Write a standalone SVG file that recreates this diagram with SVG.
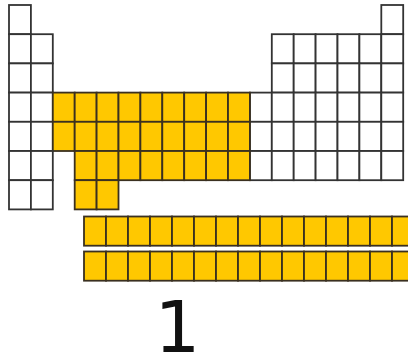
<svg xmlns="http://www.w3.org/2000/svg" xmlns:xlink="http://www.w3.org/1999/xlink" width="408" height="359" viewBox="0 0 408 359">
<style>
.w{fill:#ffffff;stroke:#333333;stroke-width:1.8}
.y{fill:#FFC800;stroke:#3a3020;stroke-width:1.8}
.lbl{font-family:"DejaVu Sans",sans-serif;font-size:72px;fill:#111111}
</style>
<defs>
<rect id="c" width="21.9" height="29.2"/>
<rect id="f" width="22" height="29.2"/>
</defs>
<rect width="408" height="359" fill="#ffffff"/>
<g id="main-table">
<g id="period1">
<use href="#c" class="w" x="9" y="5"/><use href="#c" class="w" x="381.3" y="5"/>
</g>
<g id="period2">
<use href="#c" class="w" x="9" y="34.2"/><use href="#c" class="w" x="30.9" y="34.2"/>
<use href="#c" class="w" x="271.8" y="34.2"/><use href="#c" class="w" x="293.7" y="34.2"/><use href="#c" class="w" x="315.6" y="34.2"/><use href="#c" class="w" x="337.5" y="34.2"/><use href="#c" class="w" x="359.4" y="34.2"/><use href="#c" class="w" x="381.3" y="34.2"/>
</g>
<g id="period3">
<use href="#c" class="w" x="9" y="63.4"/><use href="#c" class="w" x="30.9" y="63.4"/>
<use href="#c" class="w" x="271.8" y="63.4"/><use href="#c" class="w" x="293.7" y="63.4"/><use href="#c" class="w" x="315.6" y="63.4"/><use href="#c" class="w" x="337.5" y="63.4"/><use href="#c" class="w" x="359.4" y="63.4"/><use href="#c" class="w" x="381.3" y="63.4"/>
</g>
<g id="period4">
<use href="#c" class="w" x="9" y="92.6"/><use href="#c" class="w" x="30.9" y="92.6"/>
<use href="#c" class="w" x="249.9" y="92.6"/><use href="#c" class="w" x="271.8" y="92.6"/><use href="#c" class="w" x="293.7" y="92.6"/><use href="#c" class="w" x="315.6" y="92.6"/><use href="#c" class="w" x="337.5" y="92.6"/><use href="#c" class="w" x="359.4" y="92.6"/><use href="#c" class="w" x="381.3" y="92.6"/>
<use href="#c" class="y" x="52.8" y="92.6"/><use href="#c" class="y" x="74.7" y="92.6"/><use href="#c" class="y" x="96.6" y="92.6"/><use href="#c" class="y" x="118.5" y="92.6"/><use href="#c" class="y" x="140.4" y="92.6"/><use href="#c" class="y" x="162.3" y="92.6"/><use href="#c" class="y" x="184.2" y="92.6"/><use href="#c" class="y" x="206.1" y="92.6"/><use href="#c" class="y" x="228" y="92.6"/>
</g>
<g id="period5">
<use href="#c" class="w" x="9" y="121.8"/><use href="#c" class="w" x="30.9" y="121.8"/>
<use href="#c" class="w" x="249.9" y="121.8"/><use href="#c" class="w" x="271.8" y="121.8"/><use href="#c" class="w" x="293.7" y="121.8"/><use href="#c" class="w" x="315.6" y="121.8"/><use href="#c" class="w" x="337.5" y="121.8"/><use href="#c" class="w" x="359.4" y="121.8"/><use href="#c" class="w" x="381.3" y="121.8"/>
<use href="#c" class="y" x="52.8" y="121.8"/><use href="#c" class="y" x="74.7" y="121.8"/><use href="#c" class="y" x="96.6" y="121.8"/><use href="#c" class="y" x="118.5" y="121.8"/><use href="#c" class="y" x="140.4" y="121.8"/><use href="#c" class="y" x="162.3" y="121.8"/><use href="#c" class="y" x="184.2" y="121.8"/><use href="#c" class="y" x="206.1" y="121.8"/><use href="#c" class="y" x="228" y="121.8"/>
</g>
<g id="period6">
<use href="#c" class="w" x="9" y="151"/><use href="#c" class="w" x="30.9" y="151"/>
<use href="#c" class="w" x="249.9" y="151"/><use href="#c" class="w" x="271.8" y="151"/><use href="#c" class="w" x="293.7" y="151"/><use href="#c" class="w" x="315.6" y="151"/><use href="#c" class="w" x="337.5" y="151"/><use href="#c" class="w" x="359.4" y="151"/><use href="#c" class="w" x="381.3" y="151"/>
<use href="#c" class="y" x="74.7" y="151"/><use href="#c" class="y" x="96.6" y="151"/><use href="#c" class="y" x="118.5" y="151"/><use href="#c" class="y" x="140.4" y="151"/><use href="#c" class="y" x="162.3" y="151"/><use href="#c" class="y" x="184.2" y="151"/><use href="#c" class="y" x="206.1" y="151"/><use href="#c" class="y" x="228" y="151"/>
</g>
<g id="period7">
<use href="#c" class="w" x="9" y="180.2"/><use href="#c" class="w" x="30.9" y="180.2"/>
<use href="#c" class="y" x="74.7" y="180.2"/><use href="#c" class="y" x="96.6" y="180.2"/>
</g>
</g>
<g id="f-block">
<g id="lanthanides">
<use href="#f" class="y" x="84" y="216.5"/><use href="#f" class="y" x="106" y="216.5"/><use href="#f" class="y" x="128" y="216.5"/><use href="#f" class="y" x="150" y="216.5"/><use href="#f" class="y" x="172" y="216.5"/><use href="#f" class="y" x="194" y="216.5"/><use href="#f" class="y" x="216" y="216.5"/><use href="#f" class="y" x="238" y="216.5"/><use href="#f" class="y" x="260" y="216.5"/><use href="#f" class="y" x="282" y="216.5"/><use href="#f" class="y" x="304" y="216.5"/><use href="#f" class="y" x="326" y="216.5"/><use href="#f" class="y" x="348" y="216.5"/><use href="#f" class="y" x="370" y="216.5"/><use href="#f" class="y" x="392" y="216.5"/>
</g>
<g id="actinides">
<use href="#f" class="y" x="84" y="251.5"/><use href="#f" class="y" x="106" y="251.5"/><use href="#f" class="y" x="128" y="251.5"/><use href="#f" class="y" x="150" y="251.5"/><use href="#f" class="y" x="172" y="251.5"/><use href="#f" class="y" x="194" y="251.5"/><use href="#f" class="y" x="216" y="251.5"/><use href="#f" class="y" x="238" y="251.5"/><use href="#f" class="y" x="260" y="251.5"/><use href="#f" class="y" x="282" y="251.5"/><use href="#f" class="y" x="304" y="251.5"/><use href="#f" class="y" x="326" y="251.5"/><use href="#f" class="y" x="348" y="251.5"/><use href="#f" class="y" x="370" y="251.5"/><use href="#f" class="y" x="392" y="251.5"/>
</g>
</g>
<g id="label">
<text class="lbl" x="177.5" y="352" text-anchor="middle">1</text>
</g>
</svg>
